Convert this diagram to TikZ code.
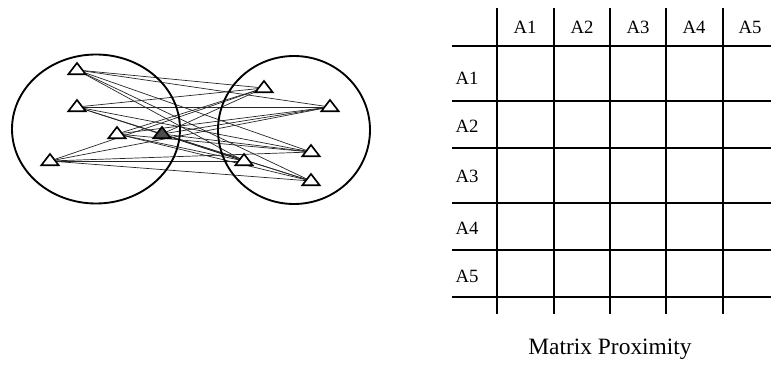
\documentclass[tikz,border=0pt]{standalone}
\usepackage{fontspec}
\setmainfont{Liberation Serif}
\usetikzlibrary{shapes.geometric,backgrounds}
\tikzset{
  cluster/.style={draw=black,line width=1.6pt},
  agent/.style={isosceles triangle,isosceles triangle apex angle=75,shape border rotate=90,
    draw=black,line width=1.4pt,fill=white,minimum height=0.34cm,inner sep=0pt},
  tie/.style={draw=black!85,line width=0.6pt},
  grid/.style={draw=black,line width=1.1pt},
  cell/.style={font=\fontsize{16}{18}\selectfont,inner sep=0pt},
}
\begin{document}
\begin{tikzpicture}[x=0.03cm,y=-0.03cm]
\useasboundingbox (0,0) rectangle (771,365);
% two groups of agents
\draw[cluster] (96,129) ellipse [x radius=84,y radius=74.5];
\draw[cluster] (294,130) ellipse [x radius=76,y radius=74];

\node[agent] (L1) at (77,70) {};
\node[agent] (L2) at (77,107) {};
\node[agent] (L3) at (117,134) {};
\node[agent,fill=black!70] (L4) at (162,134) {};
\node[agent] (L5) at (50,161) {};
\node[agent] (R1) at (264,88) {};
\node[agent] (R2) at (330,107) {};
\node[agent] (R3) at (311,152) {};
\node[agent] (R4) at (244,161) {};
\node[agent] (R5) at (311,181) {};

\begin{scope}[on background layer]
\foreach \i in {1,...,5}
  \foreach \j in {1,...,5}
    \draw[tie] (L\i.center) -- (R\j.center);
\end{scope}

% proximity matrix
\foreach \y in {46,101,148,203,250,297}
  \draw[grid] (452,\y) -- (771,\y);
\foreach \x in {497,554,610,666,723}
  \draw[grid] (\x,8) -- (\x,314);
\foreach \x/\t in {525/A1,582/A2,638/A3,694/A4,750/A5}
  \node[cell] (h\t) at (\x,27) {\t};
\foreach \y/\t in {78/A1,126/A2,176/A3,228/A4,276/A5}
  \node[cell] (r\t) at (467,\y) {\t};
\node[font=\fontsize{20}{22}\selectfont] (caption) at (610,349) {Matrix Proximity};
\end{tikzpicture}
\end{document}
